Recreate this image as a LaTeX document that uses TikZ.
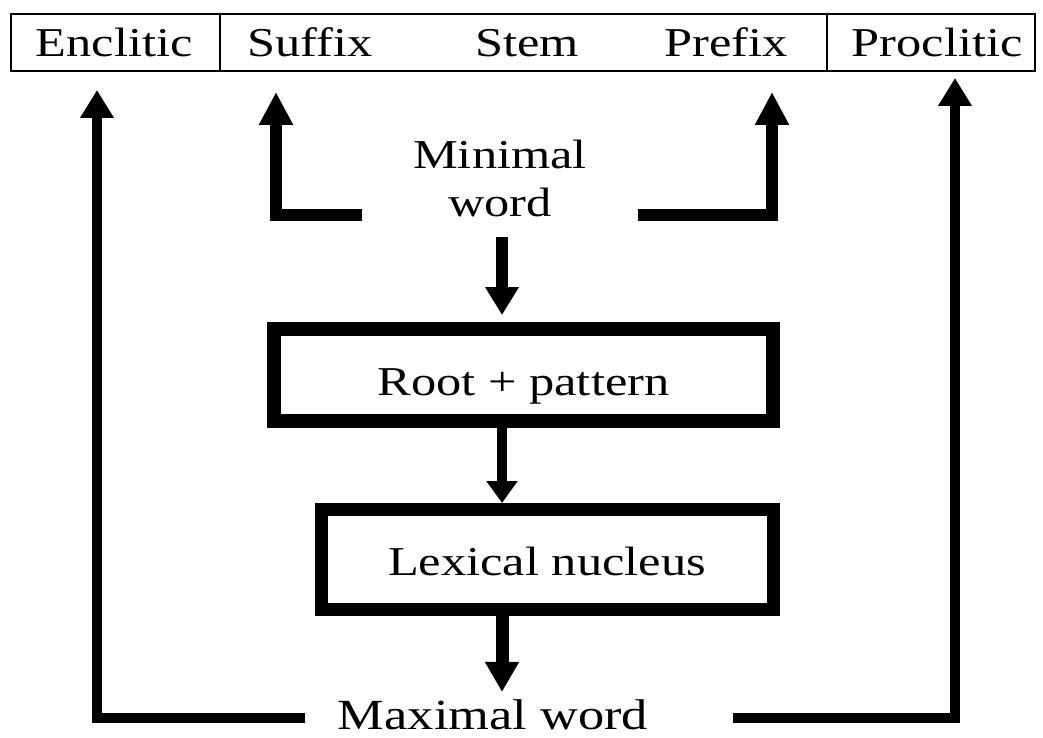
\documentclass[tikz,border=0pt]{standalone}
\usepackage{fontspec}
\setmainfont{Liberation Serif}
\usepackage{graphicx}
\usetikzlibrary{arrows.meta}
\newcommand\wtxt[1]{\scalebox{1.23}[1]{#1}}
\begin{document}
\begin{tikzpicture}[x=1pt,y=-1pt,
  lbl/.style={font=\fontsize{41}{48}\selectfont, inner sep=0pt, anchor=base, text=black},
  thickbox/.style={draw, line width=14pt, inner sep=0pt, font=\fontsize{41}{48}\selectfont, text=black},
  conn/.style={line width=#1, line join=miter},
  headA/.style={-{Triangle[width=32pt,length=28pt]}},
  headB/.style={-{Triangle[width=32pt,length=33pt]}},
  headC/.style={-{Triangle[width=30pt,length=22pt]}}
]
\useasboundingbox (0,0) rectangle (1043,738);
\fill[white] (0,0) rectangle (1043,738);

% top bar
\node[draw, line width=2.5pt, minimum width=1024pt, minimum height=57pt, inner sep=0pt] (bar) at (523,42.5) {};
\draw[line width=2.5pt] (bar.north -| 220,0) -- (bar.south -| 220,0);
\draw[line width=2.5pt] (bar.north -| 827,0) -- (bar.south -| 827,0);
\node[lbl] (enclitic) at (114,57) {\wtxt{Enclitic}};
\node[lbl] (suffix) at (310,57) {\wtxt{Suffix}};
\node[lbl] (stem) at (527,57) {\wtxt{Stem}};
\node[lbl] (prefix) at (726,57) {\wtxt{Prefix}};
\node[lbl] (proclitic) at (937,57) {\wtxt{Proclitic}};

% middle
\node[lbl, anchor=center, align=center] (minw) at (500,178) {\wtxt{Minimal}\\\wtxt{word}};
\node[thickbox, minimum width=499pt, minimum height=92pt, text height=48pt, text depth=8pt] (root) at (523.5,375) {\wtxt{Root + pattern}};
\node[thickbox, line width=13pt, minimum width=452pt, minimum height=100pt, text height=39pt, text depth=8pt] (lex) at (547,559.5) {\wtxt{Lexical nucleus}};
\node[lbl, font=\fontsize{43}{48}\selectfont] (maxw) at (493,729) {\scalebox{1.22}[1]{Maximal word}};

\coordinate (spine) at (502,0);
\coordinate (sufStart) at (362,215);
\coordinate (sufTip) at (276,92);
\coordinate (preStart) at (638,215);
\coordinate (preTip) at (772,92);
\coordinate (encStart) at (305,718);
\coordinate (encTip) at (97,90);
\coordinate (proStart) at (733,718);
\coordinate (proTip) at (955,78);

% connectors
\draw[conn=12pt, headB] (sufStart) -| (sufTip);
\draw[conn=12pt, headB] (preStart) -| (preTip);
\draw[conn=10pt, headA] (encStart) -| (encTip);
\draw[conn=10pt, headA] (proStart) -| (proTip);
\draw[conn=12pt, headA, shorten <=20pt, shorten >=7pt] (minw.south -| spine) -- (root.north -| spine);
\draw[conn=10pt, headC] (root.south -| spine) -- (lex.north -| spine);
\draw[conn=13pt, -{Triangle[width=32pt,length=30pt]}, shorten >=7pt] (lex.south -| spine) -- (maxw.north -| spine);
\end{tikzpicture}
\end{document}
